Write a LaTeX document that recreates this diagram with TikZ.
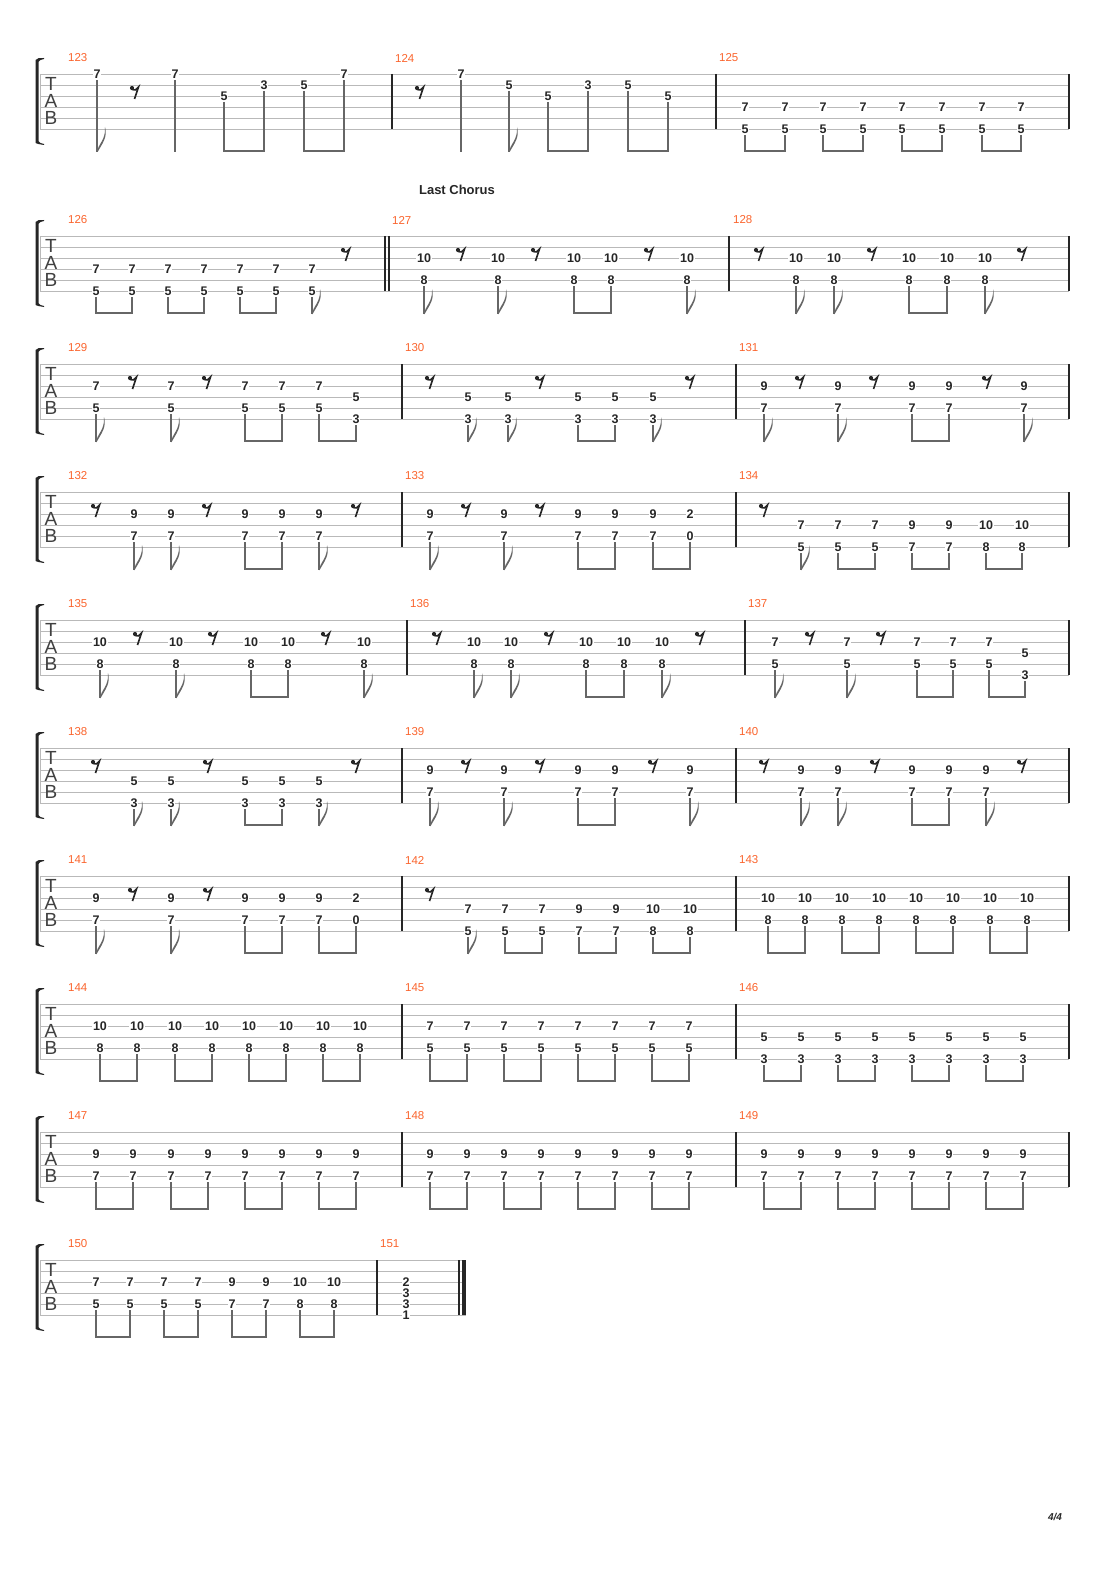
\documentclass[tikz,border=0pt]{standalone}
\usepackage{fontspec}
\setsansfont{Liberation Sans}
\usepackage[dvipsnames]{xcolor}
\definecolor{barnum}{RGB}{250,100,45}

% string y on the current system
\newcommand\sy[1]{\T+11*(#1-1)}
\newcommand\nt[3]{\node[fret] at (#1,{\sy{#2}}) {#3};}
\newcommand\dy[5]{\nt{#1}{#2}{#3}\nt{#1}{#4}{#5}}
\newcommand\stm[2]{\draw[stemln] (#1,{\sy{#2}+6}) -- (#1,\T+78);}
\newcommand\flg[1]{\fill[stemclr] (#1,\T+78) .. controls (#1+1,\T+70) and (#1+9,\T+66) .. (#1+8,\T+53)
  .. controls (#1+11,\T+63) and (#1+5,\T+70) .. (#1+0.6,\T+78) -- cycle;}
\newcommand\bm[2]{\draw[beamln] (#1-0.6,\T+77) -- (#2+0.6,\T+77);}
\newcommand\ef[5]{\dy{#1}{#2}{#3}{#4}{#5}\stm{#1}{#4}\flg{#1}}
\newcommand\bp[6]{\dy{#1}{#3}{#4}{#5}{#6}\dy{#2}{#3}{#4}{#5}{#6}\stm{#1}{#5}\stm{#2}{#5}\bm{#1}{#2}}
\newcommand\rst[1]{\fill[black!85] (#1-3,\T+14) circle (2.1);
  \draw[black!85,line width=1.6] (#1-3,\T+15.5) .. controls (#1,\T+16.5) .. (#1+3.5,\T+13) -- (#1-0.5,\T+25);}
\newcommand\barl[1]{\draw[barln] (#1,\T) -- (#1,\T+55);}
\newcommand\mn[2]{\node[mnum] at (#1,\T-16) {#2};}
\newcommand\sys[1]{%
  \foreach \s in {1,...,6}{\draw[staffln] (40,{\sy{\s}}) -- (#1,{\sy{\s}});}
  \draw[staffln] (40,\T) -- (40,\T+55);
  \fill[black!85] (44,\T-15) .. controls (40,\T-14) .. (38.5,\T-12) -- (38.5,\T+67)
    .. controls (40,\T+69) .. (44,\T+70) -- (44,\T+71) .. controls (38,\T+70) .. (35.5,\T+69)
    -- (35.5,\T-14) .. controls (38,\T-16) .. (44,\T-16) -- cycle;
  \node[tabl] at (51,\T+10) {T};
  \node[tabl] at (51,\T+27) {A};
  \node[tabl] at (51,\T+44) {B};}

\begin{document}
\begin{tikzpicture}[x=1pt,y=-1pt,
  fret/.style={fill=white,inner sep=1pt,text=black!85,font=\sffamily\bfseries\fontsize{12.5}{13}\selectfont},
  mnum/.style={anchor=west,inner sep=0,text=barnum,font=\sffamily\fontsize{11.5}{12}\selectfont},
  tabl/.style={inner sep=0,text=black!75,font=\sffamily\fontsize{19}{19}\selectfont},
  staffln/.style={gray!55,line width=0.8},
  barln/.style={black!85,line width=1.1},
  stemclr/.style={black!60},
  stemln/.style={black!60,line width=1.1},
  beamln/.style={black!60,line width=2.8}]
\useasboundingbox (0,0) rectangle (1110,1570);

% 123-125
\def\T{74}\sys{1069}\barl{1069}
\mn{68}{123}
\nt{97}{1}{7}\stm{97}{1}\flg{97}
\rst{135}
\nt{175}{1}{7}\stm{175}{1}
\nt{224}{3}{5}\nt{264}{2}{3}\stm{224}{3}\stm{264}{2}\bm{224}{264}
\nt{304}{2}{5}\nt{344}{1}{7}\stm{304}{2}\stm{344}{1}\bm{304}{344}
\barl{392}\mn{395}{124}
\rst{420}
\nt{461}{1}{7}\stm{461}{1}
\nt{509}{2}{5}\stm{509}{2}\flg{509}
\nt{548}{3}{5}\nt{588}{2}{3}\stm{548}{3}\stm{588}{2}\bm{548}{588}
\nt{628}{2}{5}\nt{668}{3}{5}\stm{628}{2}\stm{668}{3}\bm{628}{668}
\barl{716}\mn{719}{125}
\foreach \a/\b in {745/785,823/863,902/942,982/1021}{\bp{\a}{\b}{4}{7}{6}{5}}

% 126-128
\node[font=\sffamily\bfseries\fontsize{13}{14}\selectfont,text=black!85] (lastchorus) at (457,190) {Last Chorus};
\def\T{236}\sys{1069}\barl{1069}
\mn{68}{126}
\foreach \a/\b in {96/132,168/204,240/276}{\bp{\a}{\b}{4}{7}{6}{5}}
\ef{312}{4}{7}{6}{5}\rst{346}
\barl{385}\barl{389}\mn{392}{127}
\ef{424}{3}{10}{5}{8}\rst{461}\ef{498}{3}{10}{5}{8}\rst{536}
\bp{574}{611}{3}{10}{5}{8}\rst{649}\ef{687}{3}{10}{5}{8}
\barl{729}\mn{733}{128}
\rst{759}\ef{796}{3}{10}{5}{8}\ef{834}{3}{10}{5}{8}\rst{872}
\bp{909}{947}{3}{10}{5}{8}\ef{985}{3}{10}{5}{8}\rst{1022}

% 129-131
\def\T{364}\sys{1069}\barl{1069}
\mn{68}{129}
\ef{96}{3}{7}{5}{5}\rst{133}\ef{171}{3}{7}{5}{5}\rst{207}
\bp{245}{282}{3}{7}{5}{5}
\dy{319}{3}{7}{5}{5}\dy{356}{4}{5}{6}{3}\stm{319}{5}\stm{356}{6}\bm{319}{356}
\barl{402}\mn{405}{130}
\rst{430}\ef{468}{4}{5}{6}{3}\ef{508}{4}{5}{6}{3}\rst{540}
\bp{578}{615}{4}{5}{6}{3}\ef{653}{4}{5}{6}{3}\rst{690}
\barl{736}\mn{739}{131}
\ef{764}{3}{9}{5}{7}\rst{800}\ef{838}{3}{9}{5}{7}\rst{874}
\bp{912}{949}{3}{9}{5}{7}\rst{987}\ef{1024}{3}{9}{5}{7}

% 132-134
\def\T{492}\sys{1069}\barl{1069}
\mn{68}{132}
\rst{96}\ef{134}{3}{9}{5}{7}\ef{171}{3}{9}{5}{7}\rst{207}
\bp{245}{282}{3}{9}{5}{7}\ef{319}{3}{9}{5}{7}\rst{356}
\barl{402}\mn{405}{133}
\ef{430}{3}{9}{5}{7}\rst{466}\ef{504}{3}{9}{5}{7}\rst{540}
\bp{578}{615}{3}{9}{5}{7}
\dy{653}{3}{9}{5}{7}\dy{690}{3}{2}{5}{0}\stm{653}{5}\stm{690}{5}\bm{653}{690}
\barl{736}\mn{739}{134}
\rst{764}\ef{801}{4}{7}{6}{5}\bp{838}{875}{4}{7}{6}{5}
\bp{912}{949}{4}{9}{6}{7}\bp{986}{1022}{4}{10}{6}{8}

% 135-137
\def\T{620}\sys{1069}\barl{1069}
\mn{68}{135}
\ef{100}{3}{10}{5}{8}\rst{138}\ef{176}{3}{10}{5}{8}\rst{213}
\bp{251}{288}{3}{10}{5}{8}\rst{326}\ef{364}{3}{10}{5}{8}
\barl{407}\mn{410}{136}
\rst{437}\ef{474}{3}{10}{5}{8}\ef{511}{3}{10}{5}{8}\rst{549}
\bp{586}{624}{3}{10}{5}{8}\ef{662}{3}{10}{5}{8}\rst{700}
\barl{745}\mn{748}{137}
\ef{775}{3}{7}{5}{5}\rst{810}\ef{847}{3}{7}{5}{5}\rst{881}
\bp{917}{953}{3}{7}{5}{5}
\dy{989}{3}{7}{5}{5}\dy{1025}{4}{5}{6}{3}\stm{989}{5}\stm{1025}{6}\bm{989}{1025}

% 138-140
\def\T{748}\sys{1069}\barl{1069}
\mn{68}{138}
\rst{96}\ef{134}{4}{5}{6}{3}\ef{171}{4}{5}{6}{3}\rst{208}
\bp{245}{282}{4}{5}{6}{3}\ef{319}{4}{5}{6}{3}\rst{356}
\barl{402}\mn{405}{139}
\ef{430}{3}{9}{5}{7}\rst{466}\ef{504}{3}{9}{5}{7}\rst{540}
\bp{578}{615}{3}{9}{5}{7}\rst{653}\ef{690}{3}{9}{5}{7}
\barl{736}\mn{739}{140}
\rst{764}\ef{801}{3}{9}{5}{7}\ef{838}{3}{9}{5}{7}\rst{875}
\bp{912}{949}{3}{9}{5}{7}\ef{986}{3}{9}{5}{7}\rst{1022}

% 141-143
\def\T{876}\sys{1069}\barl{1069}
\mn{68}{141}
\ef{96}{3}{9}{5}{7}\rst{133}\ef{171}{3}{9}{5}{7}\rst{208}
\bp{245}{282}{3}{9}{5}{7}
\dy{319}{3}{9}{5}{7}\dy{356}{3}{2}{5}{0}\stm{319}{5}\stm{356}{5}\bm{319}{356}
\barl{402}\mn{405}{142}
\rst{430}\ef{468}{4}{7}{6}{5}\bp{505}{542}{4}{7}{6}{5}
\bp{579}{616}{4}{9}{6}{7}\bp{653}{690}{4}{10}{6}{8}
\barl{736}\mn{739}{143}
\foreach \a/\b in {768/805,842/879,916/953,990/1027}{\bp{\a}{\b}{3}{10}{5}{8}}

% 144-146
\def\T{1004}\sys{1069}\barl{1069}
\mn{68}{144}
\foreach \a/\b in {100/137,175/212,249/286,323/360}{\bp{\a}{\b}{3}{10}{5}{8}}
\barl{402}\mn{405}{145}
\foreach \a/\b in {430/467,504/541,578/615,652/689}{\bp{\a}{\b}{3}{7}{5}{5}}
\barl{736}\mn{739}{146}
\foreach \a/\b in {764/801,838/875,912/949,986/1023}{\bp{\a}{\b}{4}{5}{6}{3}}

% 147-149
\def\T{1132}\sys{1069}\barl{1069}
\mn{68}{147}
\foreach \a/\b in {96/133,171/208,245/282,319/356}{\bp{\a}{\b}{3}{9}{5}{7}}
\barl{402}\mn{405}{148}
\foreach \a/\b in {430/467,504/541,578/615,652/689}{\bp{\a}{\b}{3}{9}{5}{7}}
\barl{736}\mn{739}{149}
\foreach \a/\b in {764/801,838/875,912/949,986/1023}{\bp{\a}{\b}{3}{9}{5}{7}}

% 150-151
\def\T{1260}\sys{466}
\mn{68}{150}
\bp{96}{130}{3}{7}{5}{5}\bp{164}{198}{3}{7}{5}{5}
\bp{232}{266}{3}{9}{5}{7}\bp{300}{334}{3}{10}{5}{8}
\barl{377}\mn{380}{151}
\nt{406}{3}{2}\nt{406}{4}{3}\nt{406}{5}{3}\nt{406}{6}{1}
\barl{459}\fill[black!85] (462,\T) rectangle (466,\T+55);

\node[font=\sffamily\bfseries\itshape\fontsize{10}{11}\selectfont,text=black!85] (pagenum) at (1055,1517) {4/4};
\end{tikzpicture}
\end{document}
